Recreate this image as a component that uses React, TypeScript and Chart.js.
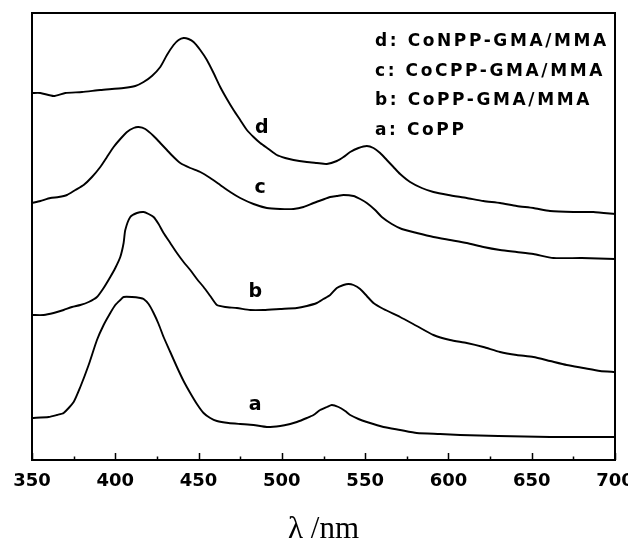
import React, { useEffect, useRef } from 'react';
import { Chart, registerables } from 'chart.js';

Chart.register(...registerables);

// ---- data (wavelength in nm, absorbance in arbitrary offset units) ----
const WL_A = [350, 360, 365, 369, 375, 379, 384, 389, 393, 397, 400, 403, 405, 410, 415, 417, 420, 423, 426, 429, 433, 437, 441, 445, 449, 453, 457, 461, 468, 475, 483, 491, 499, 505, 509, 515, 519, 523, 527, 530, 534, 538, 541, 546, 551, 561, 571, 581, 595, 607, 630, 661, 680, 700];
const ABS_A = [0.42, 0.43, 0.45, 0.47, 0.58, 0.73, 0.95, 1.20, 1.35, 1.47, 1.55, 1.60, 1.63, 1.63, 1.62, 1.61, 1.56, 1.47, 1.36, 1.23, 1.08, 0.93, 0.79, 0.67, 0.56, 0.47, 0.42, 0.39, 0.37, 0.36, 0.35, 0.33, 0.34, 0.36, 0.38, 0.42, 0.45, 0.50, 0.53, 0.55, 0.53, 0.49, 0.45, 0.41, 0.38, 0.33, 0.30, 0.27, 0.26, 0.25, 0.24, 0.23, 0.23, 0.23];

const WL_B = [350, 357, 363, 369, 374, 379, 384, 389, 393, 397, 400, 403, 405, 406, 409, 413, 417, 420, 423, 426, 429, 433, 437, 441, 445, 449, 453, 457, 461, 466, 473, 481, 489, 499, 509, 515, 521, 525, 529, 533, 537, 540, 543, 547, 551, 555, 561, 571, 581, 591, 601, 611, 621, 631, 641, 651, 661, 671, 681, 691, 700];
const ABS_B = [1.45, 1.45, 1.47, 1.50, 1.53, 1.55, 1.58, 1.63, 1.72, 1.83, 1.92, 2.03, 2.17, 2.30, 2.43, 2.47, 2.48, 2.46, 2.43, 2.36, 2.27, 2.17, 2.07, 1.98, 1.90, 1.81, 1.73, 1.64, 1.55, 1.53, 1.52, 1.50, 1.50, 1.51, 1.52, 1.54, 1.57, 1.61, 1.65, 1.72, 1.75, 1.76, 1.75, 1.71, 1.64, 1.57, 1.51, 1.43, 1.34, 1.25, 1.20, 1.17, 1.13, 1.08, 1.05, 1.03, 0.99, 0.95, 0.92, 0.89, 0.88];

const WL_C = [350, 355, 361, 366, 371, 376, 381, 386, 391, 395, 399, 403, 407, 411, 414, 418, 423, 427, 431, 435, 439, 445, 451, 457, 463, 469, 475, 483, 491, 499, 507, 513, 519, 524, 529, 533, 537, 543, 547, 551, 556, 560, 566, 572, 581, 591, 601, 611, 621, 631, 641, 651, 663, 680, 700];
const ABS_C = [2.57, 2.59, 2.62, 2.63, 2.65, 2.70, 2.75, 2.83, 2.93, 3.03, 3.13, 3.21, 3.28, 3.32, 3.33, 3.31, 3.24, 3.17, 3.10, 3.03, 2.97, 2.92, 2.88, 2.82, 2.75, 2.68, 2.62, 2.56, 2.52, 2.51, 2.51, 2.53, 2.57, 2.60, 2.63, 2.64, 2.65, 2.64, 2.61, 2.57, 2.50, 2.43, 2.36, 2.31, 2.27, 2.23, 2.20, 2.17, 2.13, 2.10, 2.08, 2.06, 2.02, 2.02, 2.01];

const WL_D = [350, 355, 363, 370, 380, 391, 405, 412, 417, 422, 427, 431, 435, 438, 441, 444, 447, 451, 455, 459, 463, 467, 471, 475, 479, 483, 487, 492, 497, 502, 507, 515, 521, 527, 533, 537, 541, 546, 551, 555, 559, 563, 567, 571, 577, 584, 591, 600, 611, 621, 631, 641, 651, 661, 675, 687, 700];
const ABS_D = [3.67, 3.67, 3.64, 3.67, 3.68, 3.70, 3.72, 3.74, 3.78, 3.84, 3.93, 4.05, 4.15, 4.20, 4.22, 4.21, 4.18, 4.10, 4.00, 3.87, 3.73, 3.61, 3.50, 3.40, 3.30, 3.23, 3.17, 3.11, 3.05, 3.02, 3.00, 2.98, 2.97, 2.96, 2.99, 3.03, 3.08, 3.12, 3.14, 3.12, 3.07, 3.00, 2.93, 2.86, 2.78, 2.72, 2.68, 2.65, 2.62, 2.59, 2.57, 2.54, 2.52, 2.49, 2.48, 2.48, 2.46];

const SERIES_LETTERS = ['a', 'b', 'c', 'd'];
const SERIES_NAMES = ['a: CoPP', 'b: CoPP-GMA/MMA', 'c: CoCPP-GMA/MMA', 'd: CoNPP-GMA/MMA'];
const X_TICKS = [350, 400, 450, 500, 550, 600, 650, 700];
const X_MINOR = [375, 425, 475, 525, 575, 625, 675];
const X_TITLE = 'λ /nm';

// curve-letter annotation anchors (nm, value)
const LETTER_X = [484, 484, 487, 488];
const LETTER_Y = [0.55, 1.68, 2.72, 3.32];

const toPoints = (xs: number[], ys: number[]) => xs.map((x, i) => ({ x, y: ys[i] }));
const SERIES = [
  toPoints(WL_A, ABS_A),
  toPoints(WL_B, ABS_B),
  toPoints(WL_C, ABS_C),
  toPoints(WL_D, ABS_D),
];

const decorPlugin = {
  id: 'decor',
  afterDraw(chart: any) {
    const { ctx, chartArea } = chart;
    const xs = chart.scales.x;
    const ys = chart.scales.y;
    ctx.save();
    // frame
    ctx.strokeStyle = '#000';
    ctx.lineWidth = 2;
    ctx.strokeRect(chartArea.left, chartArea.top, chartArea.right - chartArea.left, chartArea.bottom - chartArea.top);
    // inward ticks
    ctx.lineWidth = 1.5;
    ctx.beginPath();
    X_TICKS.forEach((v) => {
      const px = Math.round(xs.getPixelForValue(v)) + 0.5;
      ctx.moveTo(px, chartArea.bottom);
      ctx.lineTo(px, chartArea.bottom - 7);
    });
    X_MINOR.forEach((v) => {
      const px = Math.round(xs.getPixelForValue(v)) + 0.5;
      ctx.moveTo(px, chartArea.bottom);
      ctx.lineTo(px, chartArea.bottom - 3.5);
    });
    ctx.stroke();
    // curve letters
    ctx.fillStyle = '#000';
    ctx.font = 'bold 19px "DejaVu Sans"';
    ctx.textAlign = 'center';
    ctx.textBaseline = 'middle';
    SERIES_LETTERS.forEach((t, i) => {
      ctx.fillText(t, xs.getPixelForValue(LETTER_X[i]), ys.getPixelForValue(LETTER_Y[i]));
    });
    // legend text (top right), d first
    ctx.font = 'bold 17px "DejaVu Sans"';
    ctx.textAlign = 'left';
    (ctx as any).letterSpacing = '2.6px';
    const names = [...SERIES_NAMES].reverse();
    const lx = chartArea.left + 343;
    names.forEach((n, i) => {
      ctx.fillText(n, lx, chartArea.top + 29 + i * 29.5);
    });
    (ctx as any).letterSpacing = '0px';
    ctx.restore();
  },
};

export default function App() {
  const ref = useRef<HTMLCanvasElement | null>(null);
  useEffect(() => {
    if (!ref.current) return;
    const chart = new Chart(ref.current, {
      type: 'line',
      data: {
        datasets: SERIES.map((d, i) => ({
          label: SERIES_NAMES[i],
          data: d,
          borderColor: '#000',
          backgroundColor: '#000',
          borderWidth: 1.9,
          pointRadius: 0,
          tension: 0.2,
          fill: false,
        })),
      },
      options: {
        animation: false,
        responsive: false,
        devicePixelRatio: 1,
        layout: { padding: { left: 24, right: 21, top: 5, bottom: 0 } },
        plugins: { legend: { display: false }, tooltip: { enabled: false } },
        scales: {
          x: {
            type: 'linear',
            min: 350,
            max: 700,
            afterBuildTicks: (s: any) => {
              s.ticks = X_TICKS.map((v) => ({ value: v }));
            },
            afterFit: (s: any) => {
              s.height = 82;
              s.paddingLeft = 0;
              s.paddingRight = 0;
            },
            grid: { display: false, drawTicks: false },
            border: { display: false },
            ticks: {
              color: '#000',
              padding: 11,
              maxRotation: 0,
              autoSkip: false,
              font: { family: '"DejaVu Sans"', size: 18, weight: 'bold', lineHeight: 1.2 },
            },
            title: {
              display: true,
              text: X_TITLE,
              color: '#000',
              padding: { top: 27, bottom: 0 },
              font: { family: '"Liberation Serif"', size: 31, lineHeight: 0.8 },
            },
          },
          y: {
            display: false,
            min: 0,
            max: 4.47,
          },
        },
      },
      plugins: [decorPlugin],
    });
    return () => chart.destroy();
  }, []);
  return (
    <div style={{ width: 628, height: 534 }}>
      <canvas ref={ref} width={628} height={534} style={{ display: 'block' }} />
    </div>
  );
}
